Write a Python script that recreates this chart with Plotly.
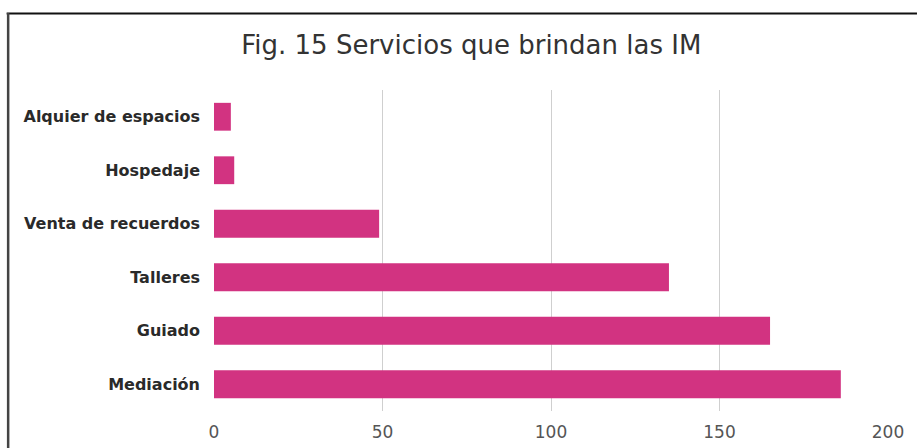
import plotly.graph_objects as go

categories = ["Alquier de espacios", "Hospedaje", "Venta de recuerdos", "Talleres", "Guiado", "Mediación"]
values = [5, 6, 49, 135, 165, 186]
tick_vals = [0, 50, 100, 150, 200]
tick_text = ["0", "50", "100", "150", "200"]
title_text = "Fig. 15 Servicios que brindan las IM"

W, H = 917, 448
ml, mr, mt, mb = 213.5, 29, 90, 37
pw = W - ml - mr
ph = H - mt - mb

def px_x(x):
    return (x - ml) / pw

def px_y(y):
    return (H - mb - y) / ph

fig = go.Figure(go.Bar(
    x=values,
    y=categories,
    orientation="h",
    marker=dict(color="#D23381", line=dict(width=0)),
    width=0.52,
))

fig.update_layout(
    width=W, height=H,
    margin=dict(l=ml, r=mr, t=mt, b=mb, autoexpand=False),
    paper_bgcolor="white",
    plot_bgcolor="white",
    showlegend=False,
    title=dict(
        text=title_text,
        x=px_x(471), xref="paper", xanchor="center",
        y=1 - 45 / H, yref="container", yanchor="middle",
        font=dict(family="DejaVu Sans", size=26, color="#333333"),
    ),
    xaxis=dict(
        range=[0, 200 * (pw / (888 - ml))],
        tickvals=tick_vals, ticktext=tick_text,
        showgrid=True, gridcolor="#cfcfcf", gridwidth=1,
        zeroline=False, showline=False, ticks="",
        tickfont=dict(family="DejaVu Sans", size=17, color="#555555"),
        ticklabelstandoff=9,
        fixedrange=True,
    ),
    yaxis=dict(
        autorange="reversed",
        showgrid=False, zeroline=False, showline=False, ticks="",
        tickfont=dict(family="DejaVu Sans", size=16, color="#2a2a2a", weight="bold"),
        ticklabelstandoff=13,
        fixedrange=True,
    ),
    shapes=[
        dict(type="line", xref="paper", yref="paper",
             x0=px_x(6), x1=px_x(917), y0=px_y(13.5), y1=px_y(13.5),
             line=dict(color="#111111", width=2)),
        dict(type="line", xref="paper", yref="paper",
             x0=px_x(7.5), x1=px_x(7.5), y0=px_y(13), y1=px_y(460),
             line=dict(color="#444444", width=2.5)),
    ],
)

fig.write_html(
    "out.html",
    config={"displayModeBar": False},
    post_script="document.body.style.margin='0px';document.body.style.padding='0px';",
)
